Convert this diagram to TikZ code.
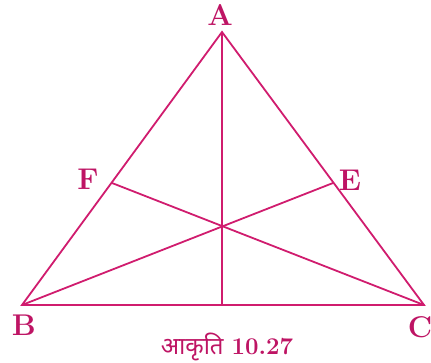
\documentclass[tikz,border=0pt]{standalone}
\usepackage{fontspec}
\newfontfamily\devfont[Script=Devanagari]{Noto Sans}
\definecolor{lin}{RGB}{208,28,110}
\definecolor{lab}{RGB}{190,20,100}
\begin{document}
\begin{tikzpicture}[x=1pt,y=-1pt,
  seg/.style={draw=lin,line width=1.8pt},
  vlabel/.style={text=lab,font=\fontsize{30}{31}\selectfont\bfseries,inner sep=0pt}]
\useasboundingbox (0,0) rectangle (431,362);
\coordinate (A) at (222,32);
\coordinate (B) at (22,305);
\coordinate (C) at (424,305);
\coordinate (F) at (112,183);
\coordinate (E) at (333,183);
\coordinate (D) at (222,305);
\draw[seg,line join=miter] (A) -- (B) -- (C) -- cycle;
\draw[seg] (A) -- (D);
\draw[seg] (B) -- (E);
\draw[seg] (C) -- (F);
\node[vlabel] (lA) at (220,15) {A};
\node[vlabel] (lB) at (24,325) {B};
\node[vlabel] (lC) at (420,327) {C};
\node[vlabel] (lF) at (88,179) {F};
\node[vlabel] (lE) at (350,180) {E};
\node[text=lab,inner sep=0pt] (cap) at (227,347) {{\devfont\bfseries\fontsize{24}{25}\selectfont आकृति}\hspace{8pt}{\fontsize{24}{25}\selectfont\bfseries 10.27}};
\end{tikzpicture}
\end{document}
